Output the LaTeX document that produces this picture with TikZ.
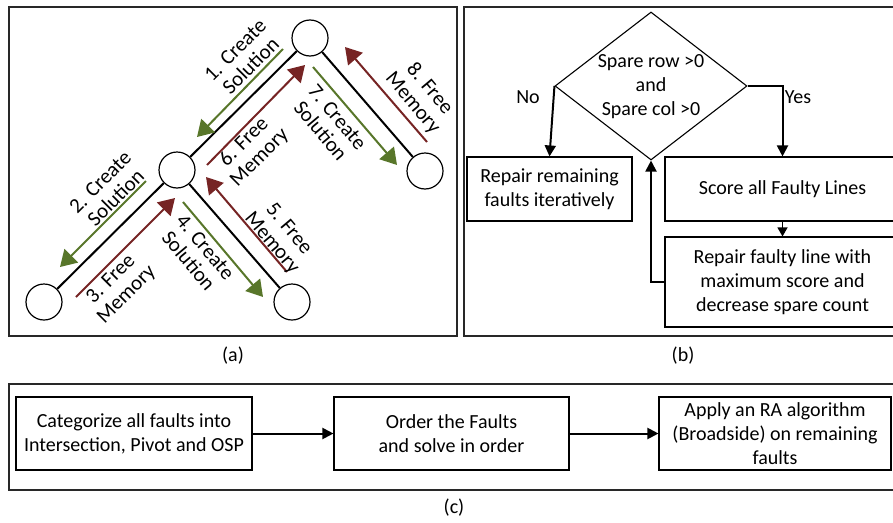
\documentclass[tikz,border=0pt]{standalone}
\usepackage{fontspec}
\setmainfont{Carlito}
\usetikzlibrary{arrows.meta,shapes.geometric}
\definecolor{agreen}{RGB}{88,118,42}
\definecolor{ared}{RGB}{118,36,36}
\definecolor{frameg}{RGB}{40,40,40}
\begin{document}
\begin{tikzpicture}[x=1pt,y=-1pt,
  every node/.style={font=\fontsize{20}{24}\selectfont},
  frame/.style={draw=frameg,line width=1.3pt},
  circ/.style={circle,draw,line width=1.2pt,minimum size=36pt,inner sep=0pt,fill=white},
  tline/.style={line width=2pt},
  garrow/.style={draw=agreen,line width=2pt,-{Triangle[length=16pt,width=19pt]},color=agreen},
  rarrow/.style={draw=ared,line width=2pt,-{Triangle[length=16pt,width=19pt]},color=ared},
  lbl/.style={align=center,inner sep=0pt,font=\fontsize{21}{22}\selectfont},
  dtext/.style={align=center,inner sep=0pt},
  box/.style={draw,line width=1.1pt,align=center,inner sep=0pt},
  barrow/.style={line width=2pt,-{Triangle[length=11pt,width=11pt]}},
  sarrow/.style={line width=1.2pt,-{Triangle[length=9pt,width=10pt]}}
]
\useasboundingbox (0,0) rectangle (893,522);
% panel frames
\draw[frame] (9,7) rectangle (457,336);
\draw[frame] (464,7) rectangle (902,336);
\draw[frame] (9,384) rectangle (902,490);

% ---------- panel (a)
\node[circ] (T) at (310,38) {};
\node[circ] (M) at (177,170) {};
\node[circ] (BL) at (44,302) {};
\node[circ] (BM) at (292,302) {};
\node[circ] (R) at (425,171) {};
\draw[tline] (T) -- (M);
\draw[tline] (M) -- (BL);
\draw[tline] (M) -- (BM);
\draw[tline] (T) -- (R);

\coordinate (a1s) at (283,49);  \coordinate (a1e) at (197,137);
\coordinate (a6s) at (207,165); \coordinate (a6e) at (305,65);
\coordinate (a2s) at (146,181); \coordinate (a2e) at (60,267);
\coordinate (a3s) at (76,297);  \coordinate (a3e) at (175,198);
\coordinate (a4s) at (183,202); \coordinate (a4e) at (263,297);
\coordinate (a5s) at (287,272); \coordinate (a5e) at (206,177);
\coordinate (a7s) at (313,67);  \coordinate (a7e) at (397,165);
\coordinate (a8s) at (427,142); \coordinate (a8e) at (345,47);
\draw[garrow] (a1s) -- (a1e);
\draw[rarrow] (a6s) -- (a6e);
\draw[garrow] (a2s) -- (a2e);
\draw[rarrow] (a3s) -- (a3e);
\draw[garrow] (a4s) -- (a4e);
\draw[rarrow] (a5s) -- (a5e);
\draw[garrow] (a7s) -- (a7e);
\draw[rarrow] (a8s) -- (a8e);

\node[lbl,rotate=45] (l1) at (243,58) {1. Create\\Solution};
\node[lbl,rotate=45] (l6) at (252,150) {6. Free\\Memory};
\node[lbl,rotate=45] (l2) at (108,190) {2. Create\\Solution};
\node[lbl,rotate=45] (l3) at (119,287) {3. Free\\Memory};
\node[lbl,rotate=-50] (l4) at (197,254) {4. Create\\Solution};
\node[lbl,rotate=-50] (l5) at (280,236) {5. Free\\Memory};
\node[lbl,rotate=-50] (l7) at (329,124) {7. Create\\Solution};
\node[lbl,rotate=-50] (l8) at (421,96) {8. Free\\Memory};

\node (pa) at (233,356) {(a)};

% ---------- panel (b)
\node[diamond,draw,line width=1.1pt,minimum width=192pt,minimum height=148pt,inner sep=0pt] (dec) at (651,86) {};
\node[dtext] (dect) at (651,87) {Spare row >0\\and\\Spare col >0};
\node[box,minimum width=165pt,minimum height=64pt] (rr) at (549.5,189) {Repair remaining\\faults iteratively};
\node[box,minimum width=235pt,minimum height=64pt] (sc) at (782.5,189) {Score all Faulty Lines};
\node[box,minimum width=235pt,minimum height=90pt] (rp) at (782.5,282) {Repair faulty line with\\maximum score and\\decrease spare count};
\draw[barrow] (dec.west) -- (rr.north);
\draw[barrow] (dec.east) -| (sc.north);
\draw[sarrow] (sc.south) -- (rp.north);
\draw[barrow] (rp.west) -| (dec.south);
\node (no) at (528,97) {No};
\node (yes) at (798,97) {Yes};

\node (pb) at (683,356) {(b)};

% ---------- panel (c)
\node[box,minimum width=236pt,minimum height=73pt] (c1) at (134,433.5) {Categorize all faults into\\Intersection, Pivot and OSP};
\node[box,minimum width=235pt,minimum height=73pt] (c2) at (451.5,433.5) {Order the Faults\\and solve in order};
\node[box,minimum width=232pt,minimum height=73pt] (c3) at (775,433.5) {Apply an RA algorithm\\(Broadside) on remaining\\faults};
\draw[barrow] (c1.east) -- (c2.west);
\draw[barrow] (c2.east) -- (c3.west);

\node (pc) at (454,508) {(c)};
\end{tikzpicture}
\end{document}
